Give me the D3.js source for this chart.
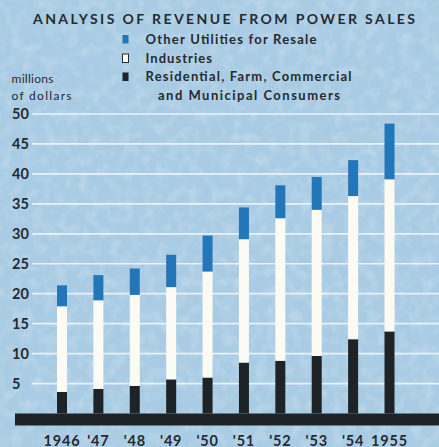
<!DOCTYPE html>
<html>
<head>
<meta charset="utf-8">
<script src="https://cdn.jsdelivr.net/npm/d3@7"></script>
<style>
  html, body { margin: 0; padding: 0; background: #a9cce4; }
  svg { display: block; }
  text { font-family: Lato, "DejaVu Sans", sans-serif; }
</style>
</head>
<body>
<svg id="chart" width="439" height="447"></svg>
<script>
// Revenue from power sales, millions of dollars
const years = ["1946", "'47", "'48", "'49", "'50", "'51", "'52", "'53", "'54", "1955"];
const residential = [3.6, 4.1, 4.6, 5.7, 6.0, 8.5, 8.8, 9.6, 12.4, 13.7];
const industries = [14.3, 14.8, 15.2, 15.4, 17.7, 20.6, 23.8, 24.4, 23.9, 25.4];
const otherUtilities = [3.5, 4.2, 4.4, 5.4, 6.0, 5.3, 5.5, 5.5, 6.0, 9.3];
const yTicks = [5, 10, 15, 20, 25, 30, 35, 40, 45, 50];

const seriesKeys = ["residential", "industries", "otherUtilities"];
const seriesColors = { residential: "#1d2327", industries: "#fbfaf3", otherUtilities: "#2377b9" };
const legendLabels = [
  { key: "otherUtilities", lines: ["Other Utilities for Resale"] },
  { key: "industries", lines: ["Industries"] },
  { key: "residential", lines: ["Residential, Farm, Commercial", "and Municipal Consumers"] }
];

const rows = years.map((y, i) => ({
  year: y,
  residential: residential[i],
  industries: industries[i],
  otherUtilities: otherUtilities[i]
}));

const svg = d3.select("#chart");
const W = 439, H = 447;
const ink = "#262b2f";

// Paper-like mottled background
const defs = svg.append("defs");
const grain = defs.append("filter").attr("id", "grain")
  .attr("x", 0).attr("y", 0).attr("width", "100%").attr("height", "100%");
grain.append("feTurbulence").attr("type", "fractalNoise")
  .attr("baseFrequency", 0.09).attr("numOctaves", 2).attr("seed", 7).attr("result", "noise");
grain.append("feColorMatrix").attr("in", "noise").attr("type", "matrix")
  .attr("values", "0 0 0 0 1  0 0 0 0 1  0 0 0 0 1  0 0 0 -2.2 1.25");

svg.append("rect").attr("width", W).attr("height", H).attr("fill", "#a9cce4");
svg.append("rect").attr("width", W).attr("height", H)
  .attr("filter", "url(#grain)").attr("opacity", 0.22);

const x = d3.scalePoint().domain(years).range([62, 389.5]);
const y = d3.scaleLinear().domain([0, 50]).range([413.5, 114]);
const barW = 10;

// Horizontal gridlines
svg.append("g").selectAll("line")
  .data(yTicks)
  .join("line")
  .attr("x1", 32).attr("x2", W)
  .attr("y1", d => y(d)).attr("y2", d => y(d))
  .attr("stroke", "#f4f8fb").attr("stroke-width", 1.7).attr("opacity", 0.85);

// Y tick labels
svg.append("g").selectAll("text")
  .data(yTicks)
  .join("text")
  .attr("x", 12).attr("y", d => y(d)).attr("dy", "0.36em")
  .attr("font-size", 14.5).attr("font-weight", 700).attr("fill", ink)
  .text(d => d);

// Stacked bars
const stacked = d3.stack().keys(seriesKeys)(rows);
svg.append("g").selectAll("g")
  .data(stacked)
  .join("g")
  .attr("fill", s => seriesColors[s.key])
  .selectAll("rect")
  .data(s => s)
  .join("rect")
  .attr("x", d => x(d.data.year) - barW / 2)
  .attr("width", barW)
  .attr("y", d => y(d[1]))
  .attr("height", d => y(d[0]) - y(d[1]));

// Heavy base line
svg.append("rect")
  .attr("x", 15).attr("y", y(0)).attr("width", W - 15).attr("height", 12)
  .attr("fill", "#1d2327");

// X labels
svg.append("g").selectAll("text")
  .data(years)
  .join("text")
  .attr("x", d => x(d)).attr("y", 445.5)
  .attr("text-anchor", "middle")
  .attr("font-size", 14.5).attr("font-weight", 700).attr("fill", ink)
  .attr("letter-spacing", 0.8)
  .text(d => d);

// Title
svg.append("text")
  .attr("x", 33).attr("y", 23.5)
  .attr("font-size", 14).attr("font-weight", 700).attr("fill", ink)
  .attr("textLength", 382).attr("lengthAdjust", "spacing")
  .text("ANALYSIS OF REVENUE FROM POWER SALES");

// Legend
const legendY = [43.5, 62.5, 81];
const lineWidths = [[171], [66.5], [206, 182]];
const legend = svg.append("g");
legendLabels.forEach((item, i) => {
  legend.append("rect")
    .attr("x", 122.5).attr("y", legendY[i] - 8.5)
    .attr("width", 6).attr("height", 8.5)
    .attr("fill", seriesColors[item.key])
    .attr("stroke", item.key === "industries" ? ink : "none")
    .attr("stroke-width", 1);
  item.lines.forEach((line, j) => {
    legend.append("text")
      .attr("x", j === 0 ? 145.5 : 158)
      .attr("y", legendY[i] + j * 18.5)
      .attr("font-size", 13).attr("font-weight", 700).attr("fill", ink)
      .attr("textLength", lineWidths[i][j]).attr("lengthAdjust", "spacing")
      .text(line);
  });
});

// Unit label
svg.append("text").attr("x", 11.5).attr("y", 83)
  .attr("font-size", 12).attr("fill", ink).attr("textLength", 42).attr("lengthAdjust", "spacing")
  .text("millions");
svg.append("text").attr("x", 11.5).attr("y", 100)
  .attr("font-size", 12).attr("fill", ink).attr("textLength", 60).attr("lengthAdjust", "spacing")
  .text("of dollars");
</script>
</body>
</html>
